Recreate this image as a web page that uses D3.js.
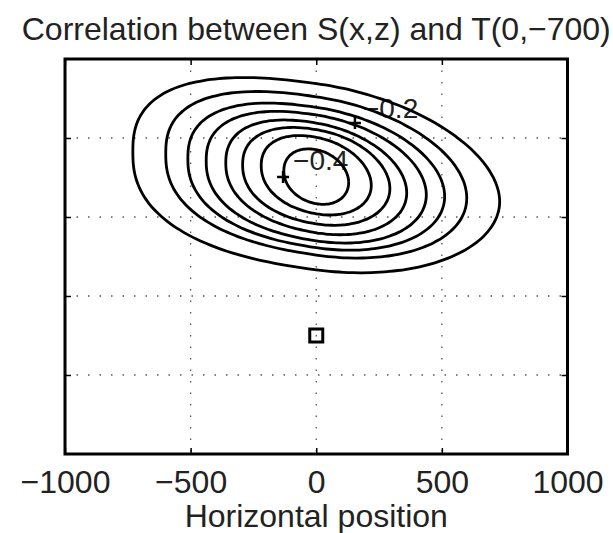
<!DOCTYPE html>
<html>
<head>
<meta charset="utf-8">
<script src="https://cdn.jsdelivr.net/npm/d3@7"></script>
<style>
  body { margin: 0; background: #fff; }
  text { font-family: "Liberation Sans", Arial, Helvetica, sans-serif; fill: #222; }
</style>
</head>
<body>
<svg id="chart" width="613" height="533"></svg>
<script>
// contour levels, outer -> inner
let levels = [-0.05, -0.1, -0.15, -0.2, -0.25, -0.3, -0.35, -0.4];
// each contour: centre, half width, half height,
// vertical offset of the right-most point (the tilt) and how blunt
// the left and right ends are (2 = plain ellipse)
let centerX = [0, 0, 0, 0, 0, 0, 0, 0];
let centerZ = [-298, -296, -300, -301, -301, -298, -295, -298];
let halfWidth = [730, 599, 511, 438, 360, 293, 219, 129];
let halfHeight = [244, 208, 184, 165, 144, 123, 100, 70];
let tilt = [-63, -56, -48, -43, -38, -30, -25, -15];
let bluntLeft = [2.5, 2.45, 2.4, 2.35, 2.3, 2.25, 2.2, 2.1];
let bluntRight = [1.95, 2, 2, 2, 2, 2, 2, 2];

// clabel positions (the '+' marks)
let labelLevels = [-0.2, -0.4];
let labelX = [154, -132];
let labelZ = [-162, -299];

// reference point T(0,-700)
let refX = [0];
let refZ = [-700];

let xTicks = [-1000, -500, 0, 500, 1000];
let xGrid = [-500, 0, 500];
let zTicks = [-800, -600, -400, -200];

let svg = d3.select('#chart');
let mLeft = 65, mRight = 567.5, mTop = 59, mBottom = 454;

let x = d3.scaleLinear().domain([-1000, 1000]).range([mLeft, mRight]);
let y = d3.scaleLinear().domain([-1000, 0]).range([mBottom, mTop]);

// grid
svg.append('g')
  .selectAll('line')
  .data(xGrid)
  .join('line')
  .attr('x1', d => x(d)).attr('x2', d => x(d))
  .attr('y1', mTop).attr('y2', mBottom)
  .attr('stroke', '#555')
  .attr('stroke-width', 1.3)
  .attr('stroke-dasharray', '1.5 10');

svg.append('g')
  .selectAll('line')
  .data(zTicks)
  .join('line')
  .attr('y1', d => y(d)).attr('y2', d => y(d))
  .attr('x1', mLeft).attr('x2', mRight)
  .attr('stroke', '#555')
  .attr('stroke-width', 1.3)
  .attr('stroke-dasharray', '1.5 10');

// contour labels (drawn under the lines like the original)
let fmt = d3.format('.1f');
let labs = svg.append('g');
labelLevels.forEach((lv, i) => {
  let px = x(labelX[i]), py = y(labelZ[i]);
  labs.append('text')
    .attr('x', px + (i === 0 ? 8 : 10))
    .attr('y', py - (i === 0 ? 5 : 7))
    .attr('font-size', 28)
    .text(fmt(lv));
  labs.append('path')
    .attr('d', `M${px - 6},${py}H${px + 6}M${px},${py - 6}V${py + 6}`)
    .attr('stroke', '#000')
    .attr('stroke-width', 2.5);
});

// contours
let path = d3.line()
  .x(d => x(d[0]))
  .y(d => y(d[1]))
  .curve(d3.curveCardinalClosed);

let sp = (u, n) => Math.sign(u) * Math.pow(Math.abs(u), 2 / n);
let ts = d3.range(0, 2 * Math.PI, Math.PI / 60);
let contours = levels.map((lv, i) => {
  let X = halfWidth[i], p = tilt[i];
  let q = Math.sqrt(halfHeight[i] * halfHeight[i] - p * p);
  return ts.map(t => {
    let n = Math.cos(t) < 0 ? bluntLeft[i] : bluntRight[i];
    let c = sp(Math.cos(t), n), s = sp(Math.sin(t), n);
    return [centerX[i] + X * c, centerZ[i] + p * c + q * s];
  });
});

svg.append('g')
  .selectAll('path')
  .data(contours)
  .join('path')
  .attr('d', path)
  .attr('fill', 'none')
  .attr('stroke', '#000')
  .attr('stroke-width', 2.8);

// reference point
svg.append('g')
  .selectAll('rect')
  .data(refX)
  .join('rect')
  .attr('x', d => x(d) - 6.5)
  .attr('y', (d, i) => y(refZ[i]) - 6.5)
  .attr('width', 13).attr('height', 13)
  .attr('fill', 'none')
  .attr('stroke', '#000')
  .attr('stroke-width', 3);

// axes
let xAxis = svg.append('g')
  .attr('transform', `translate(0,${mBottom})`)
  .call(d3.axisBottom(x).tickValues(xTicks).tickFormat(d3.format('d')).tickSize(-6).tickPadding(16));
xAxis.select('.domain').remove();
xAxis.selectAll('text')
  .attr('font-size', 32)
  .attr('fill', '#222')
  .attr('font-family', '"Liberation Sans", Arial, sans-serif');
xAxis.selectAll('line').attr('stroke-width', 1.5);

svg.append('g')
  .attr('transform', `translate(0,${mTop})`)
  .call(d3.axisTop(x).tickValues(xTicks).tickSize(-6).tickFormat(''))
  .call(g => g.select('.domain').remove())
  .selectAll('line').attr('stroke-width', 1.5);

svg.append('g')
  .attr('transform', `translate(${mLeft},0)`)
  .call(d3.axisLeft(y).tickValues(zTicks).tickSize(-6).tickFormat(''))
  .call(g => g.select('.domain').remove())
  .selectAll('line').attr('stroke-width', 1.5);

svg.append('g')
  .attr('transform', `translate(${mRight},0)`)
  .call(d3.axisRight(y).tickValues(zTicks).tickSize(-6).tickFormat(''))
  .call(g => g.select('.domain').remove())
  .selectAll('line').attr('stroke-width', 1.5);

// frame
svg.append('rect')
  .attr('x', mLeft).attr('y', mTop)
  .attr('width', mRight - mLeft).attr('height', mBottom - mTop)
  .attr('fill', 'none')
  .attr('stroke', '#000')
  .attr('stroke-width', 3);

// titles
svg.append('text')
  .attr('x', (mLeft + mRight) / 2)
  .attr('y', 40)
  .attr('text-anchor', 'middle')
  .attr('font-size', 32)
  .text('Correlation between S(x,z) and T(0,\u2212700)');

svg.append('text')
  .attr('x', (mLeft + mRight) / 2)
  .attr('y', 527)
  .attr('text-anchor', 'middle')
  .attr('font-size', 32)
  .text('Horizontal position');
</script>
</body>
</html>
